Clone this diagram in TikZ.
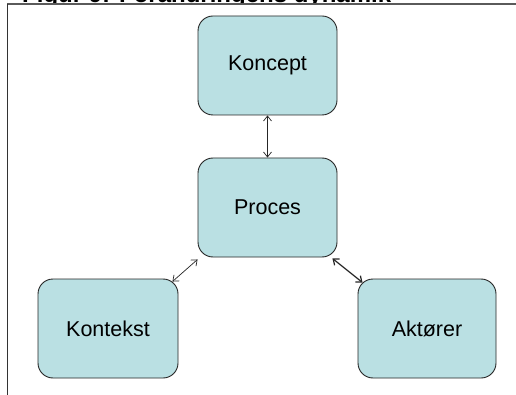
\documentclass[tikz,border=0pt]{standalone}
\usepackage{fontspec}
\setmainfont{Liberation Sans}
\usetikzlibrary{arrows.meta,calc}

\definecolor{boxfill}{RGB}{186,224,227}
\definecolor{framegray}{RGB}{90,90,90}

\tikzset{
  block/.style={draw=black!85, line width=0.9pt, fill=boxfill,
    rounded corners=15pt, inner sep=0pt, minimum height=99pt,
    font=\fontsize{21.5}{24}\selectfont},
  link/.style={line width=0.7pt, black!85,
    {Straight Barb[length=5pt,width=8pt]}-{Straight Barb[length=5pt,width=8pt]}},
  heavylink/.style={link, line width=1.2pt}
}

\begin{document}
\begin{tikzpicture}[x=1pt,y=-1pt]
  \useasboundingbox (0,0) rectangle (516,395);
  \clip (0,0) rectangle (516,395);

  % caption of the figure, partly hidden under the panel
  \node[anchor=base west, inner sep=0pt, font=\bfseries\fontsize{24}{26}\selectfont]
    (caption) at (22,2.8) {Figur 9: Forandringens dynamik};

  % white panel with its top and left rules
  \fill[white] (7,4) rectangle (516,395);
  \draw[framegray, line width=1.4pt] (7,4) -- (516,4);
  \draw[black!80, line width=1pt] (7,4) -- (7,395);

  % blocks
  \node[block, minimum width=139pt] (kop) at (267.5,65.5) {Koncept};
  \node[block, minimum width=139pt] (pro) at (267.5,207.5) {Proces};
  \node[block, minimum width=140pt] (kon) at (108,328.5) {Kontekst};
  \node[block, minimum width=138pt] (akt) at (427,328.5) {Aktører};

  % connectors
  \draw[link] (kop.south) -- (pro.north);
  \draw[link] ($(pro.south west)+(0,2)$) -- ($(kon.north east)+(-6,3)$);
  \draw[heavylink] ($(pro.south east)+(-5,1)$) -- ($(akt.north west)+(5,4)$);
\end{tikzpicture}
\end{document}
